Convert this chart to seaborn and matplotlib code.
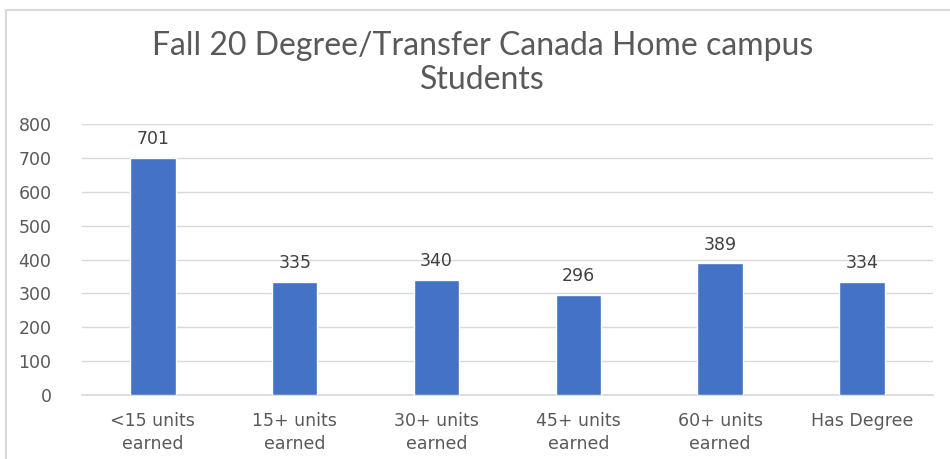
import matplotlib
matplotlib.use("Agg")
import matplotlib.pyplot as plt
import seaborn as sns
import pandas as pd
from matplotlib.patches import Rectangle

categories = ["<15 units\nearned", "15+ units\nearned", "30+ units\nearned",
              "45+ units\nearned", "60+ units\nearned", "Has Degree"]
students = [701, 335, 340, 296, 389, 334]
y_ticks = [0, 100, 200, 300, 400, 500, 600, 700, 800]

df = pd.DataFrame({"category": categories, "students": students})

sns.set_theme(style="white")
plt.rcParams["font.family"] = ["DejaVu Sans"]

fig = plt.figure(figsize=(9.5, 4.59), dpi=100)
ax = fig.add_axes([0.0863, 0.1394, 0.8957, 0.5904])

sns.barplot(data=df, x="category", y="students", color="#4472C4",
            width=0.32, saturation=1, ax=ax, zorder=3)

ax.set_ylim(0, 800)
ax.set_yticks(y_ticks)
ax.set_xlim(-0.5, len(categories) - 0.5)
ax.yaxis.grid(True, color="#D9D9D9", linewidth=1, zorder=0)
ax.set_axisbelow(True)
for s in ["top", "right", "left"]:
    ax.spines[s].set_visible(False)
ax.spines["bottom"].set_color("#D9D9D9")
ax.set_xlabel("")
ax.set_ylabel("")
ax.tick_params(axis="both", length=0, colors="#595959", labelsize=12.5)
ax.tick_params(axis="y", pad=22)
ax.tick_params(axis="x", pad=12)
for lbl in ax.get_xticklabels():
    lbl.set_linespacing(1.4)

for c in ax.containers:
    ax.bar_label(c, labels=[str(v) for v in students], padding=7,
                 color="#404040", fontsize=12.5)

fig.text(0.508, 0.90, "Fall 20 Degree/Transfer Canada Home campus",
         ha="center", va="center", fontsize=23, color="#595959",
         family="Lato")
fig.text(0.508, 0.825, "Students", ha="center", va="center", fontsize=23,
         color="#595959", family="Lato")

# chart frame: only the top and left edges show in the crop
fig.patches.append(Rectangle((0.0063, -0.05), 1.05, 0.05 + 0.978,
                             transform=fig.transFigure, fill=False,
                             edgecolor="#D9D9D9", linewidth=1.5))

fig.savefig("out.png", dpi=100)
